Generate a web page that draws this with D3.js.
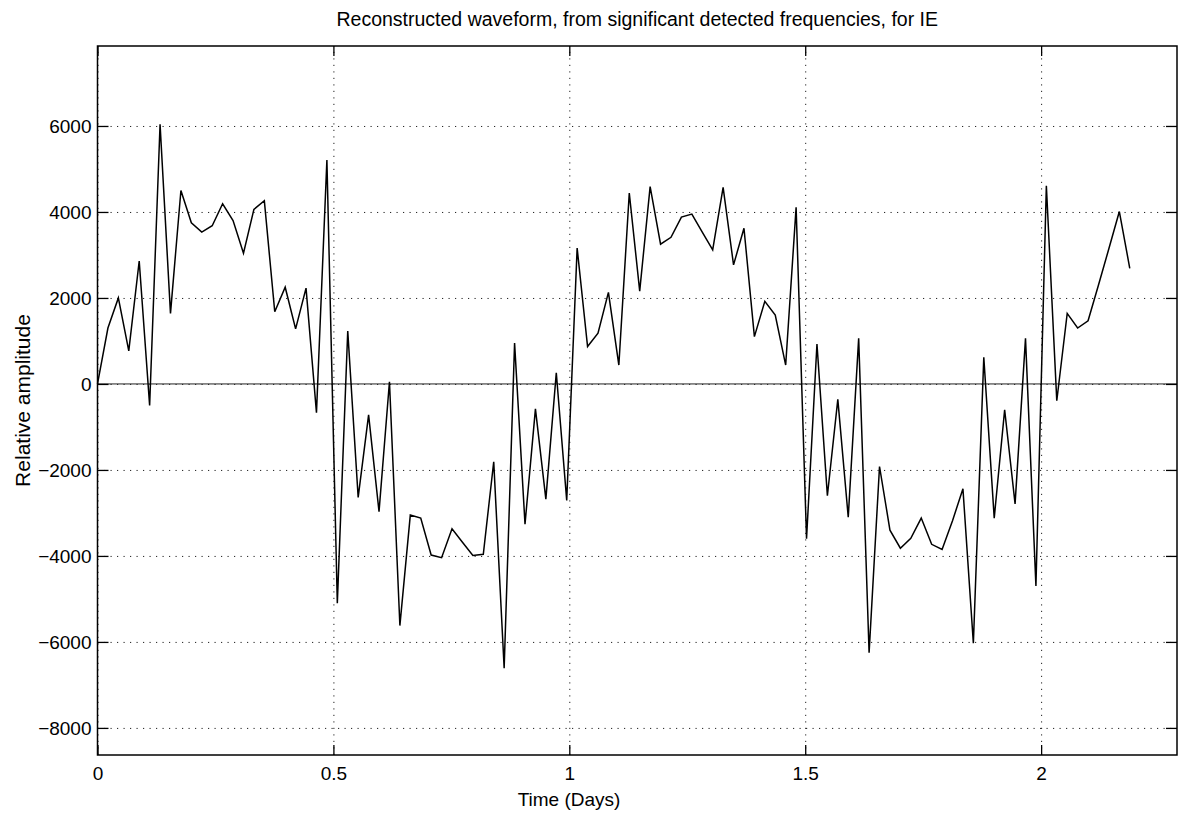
<!DOCTYPE html>
<html>
<head>
<meta charset="utf-8">
<script src="https://cdn.jsdelivr.net/npm/d3@7"></script>
<style>
  body { margin: 0; background: #fff; }
  svg { display: block; font-family: "Liberation Sans", Arial, Helvetica, sans-serif; }
  .grid line { stroke: #222; stroke-width: 1; stroke-dasharray: 1.2 5.3; }
  .grid path { display: none; }
  .ticks path { display: none; }
  .ticks line { stroke: #000; stroke-width: 1.3; }
  .ticks text { font-size: 19px; fill: #000; }
</style>
</head>
<body>
<svg></svg>
<script>
/* Relative amplitude at each sample */
const amplitude = [
  0, 1300, 2000, 770, 2860, -500, 6040, 1640, 4500, 3750,
  3530, 3680, 4190, 3800, 3040, 4060, 4260, 1680, 2250, 1280,
  2230, -670, 5210, -5100, 1230, -2640, -720, -2970, 50, -5620,
  -3050, -3120, -3980, -4040, -3370, -3680, -3990, -3960, -1810, -6610,
  950, -3260, -580, -2680, 260, -2710, 3160, 870, 1180, 2130,
  440, 4440, 2160, 4590, 3250, 3410, 3880, 3950, 3530, 3120,
  4570, 2770, 3620, 1100, 1920, 1600, 440, 4110, -3600, 930,
  -2600, -360, -3100, 1060, -6250, -1920, -3400, -3820, -3590, -3120,
  -3730, -3850, -3180, -2440, -6030, 620, -3120, -600, -2790, 1060,
  -4700, 4610, -390, 1640, 1300, 1470, 2300, 3150, 4010, 2690
]

/* Days between samples */
const sampleStep = 0.0221

const xTicks = [0, 0.5, 1, 1.5, 2]
const yTicks = [-8000, -6000, -4000, -2000, 0, 2000, 4000, 6000]

window.addEventListener('DOMContentLoaded', () => {
  let width = 1179
  let height = 815
  let left = 97.5
  let right = 1177
  let top = 46
  let bottom = 755

  let data = amplitude.map((v, i) => ({ t: i * sampleStep, v: v }))

  let svg = d3.select('svg')
    .attr('width', width)
    .attr('height', height)

  /* For scaling horizontally */
  let xScale = d3.scaleLinear()
    .domain([0, 2.288])
    .range([left, right])

  /* For scaling vertically */
  let yScale = d3.scaleLinear()
    .domain([-8630, 7860])
    .range([bottom, top])

  /* Dotted gridlines */
  svg.append('g')
    .classed('grid', true)
    .attr('transform', `translate(0, ${bottom})`)
    .call(d3.axisBottom(xScale).tickValues(xTicks).tickSize(-(bottom - top)).tickFormat(''))

  svg.append('g')
    .classed('grid', true)
    .attr('transform', `translate(${left}, 0)`)
    .call(d3.axisLeft(yScale).tickValues(yTicks).tickSize(-(right - left)).tickFormat(''))

  /* Zero line */
  svg.append('line')
    .attr('x1', left)
    .attr('x2', right)
    .attr('y1', yScale(0))
    .attr('y2', yScale(0))
    .attr('stroke', '#222')
    .attr('stroke-width', 1)

  /* Waveform */
  let line = d3.line()
    .x(d => xScale(d.t))
    .y(d => yScale(d.v))

  svg.append('path')
    .datum(data)
    .attr('d', line)
    .attr('fill', 'none')
    .attr('stroke', '#000')
    .attr('stroke-width', 1.5)
    .attr('stroke-linejoin', 'miter')

  /* Axes with inward ticks on all four sides */
  svg.append('g')
    .classed('ticks', true)
    .attr('transform', `translate(0, ${bottom})`)
    .call(d3.axisBottom(xScale).tickValues(xTicks).tickSizeInner(-10).tickSizeOuter(0).tickPadding(12).tickFormat(d3.format('')))

  svg.append('g')
    .classed('ticks', true)
    .attr('transform', `translate(0, ${top})`)
    .call(d3.axisTop(xScale).tickValues(xTicks).tickSizeInner(-10).tickSizeOuter(0).tickFormat(''))

  svg.append('g')
    .classed('ticks', true)
    .attr('transform', `translate(${left}, 0)`)
    .call(d3.axisLeft(yScale).tickValues(yTicks).tickSizeInner(-11).tickSizeOuter(0).tickPadding(6).tickFormat(d => d < 0 ? '\u2212' + Math.abs(d) : d))

  svg.append('g')
    .classed('ticks', true)
    .attr('transform', `translate(${right}, 0)`)
    .call(d3.axisRight(yScale).tickValues(yTicks).tickSizeInner(-11).tickSizeOuter(0).tickFormat(''))

  /* Box */
  svg.append('rect')
    .attr('x', left)
    .attr('y', top)
    .attr('width', right - left)
    .attr('height', bottom - top)
    .attr('fill', 'none')
    .attr('stroke', '#000')
    .attr('stroke-width', 1.5)

  /* x-axis label */
  svg.append('text')
    .attr('x', 569)
    .attr('y', 806)
    .style('text-anchor', 'middle')
    .style('font-size', '19px')
    .text('Time (Days)')

  /* y-axis label */
  svg.append('text')
    .attr('transform', 'rotate(-90)')
    .attr('x', -(top + bottom) / 2)
    .attr('y', 30)
    .style('text-anchor', 'middle')
    .style('font-size', '21px')
    .text('Relative amplitude')

  /* Chart title */
  svg.append('text')
    .attr('x', (left + right) / 2)
    .attr('y', 26)
    .style('text-anchor', 'middle')
    .style('font-size', '19.5px')
    .text('Reconstructed waveform, from significant detected frequencies, for IE')
})
</script>
</body>
</html>
